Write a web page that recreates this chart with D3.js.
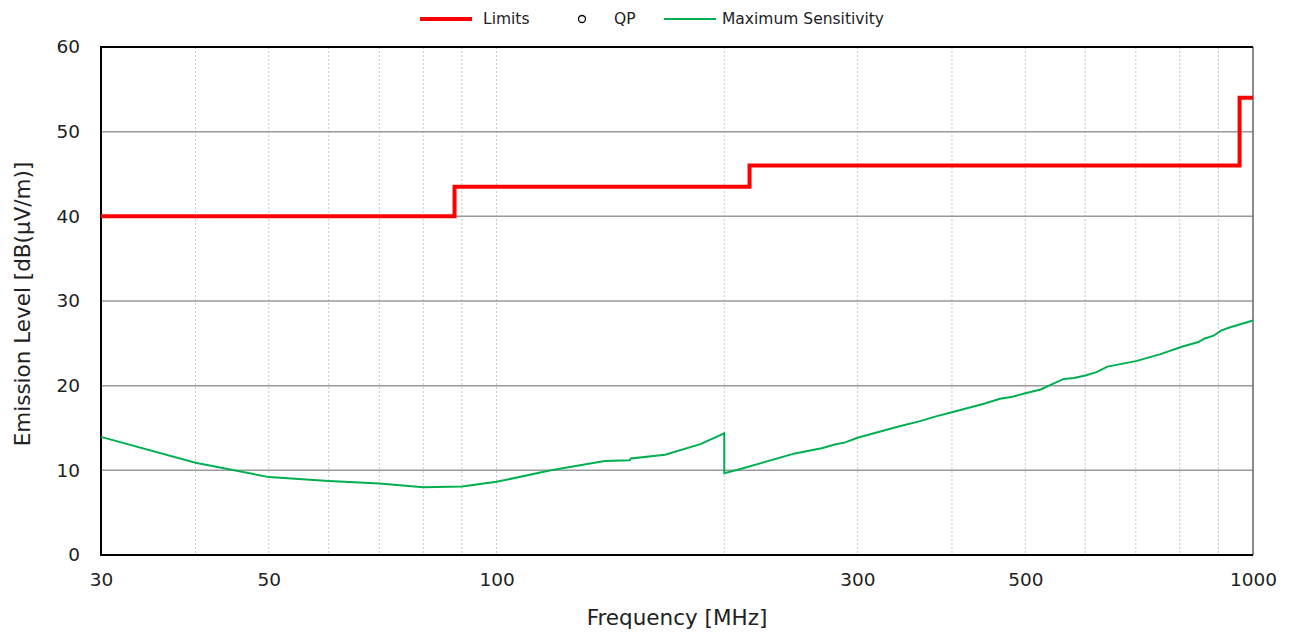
<!DOCTYPE html>
<html>
<head>
<meta charset="utf-8">
<script src="https://cdn.jsdelivr.net/npm/d3@7"></script>
<style>
  body { margin: 0; background: #fff; }
  svg text { font-family: "DejaVu Sans", Verdana, sans-serif; fill: #222; }
</style>
</head>
<body>
<div class="container"></div>
<script>
// chart values
var limitFreq = [30, 88, 216, 960, 1000];
var limitLevel = [40, 43.5, 46, 54, 54];

var sensFreq = [30, 40, 50, 60, 70, 80, 90, 100, 118, 139, 150, 150.5, 167, 186, 200,
  200, 209, 248, 269, 280, 289, 300, 341, 361, 382, 400, 442, 463, 481, 500, 524, 542,
  562, 580, 600, 621, 642, 700, 753, 805, 847, 862, 887, 907, 933, 1000];
var sensLevel = [13.95, 10.9, 9.2, 8.75, 8.45, 8.0, 8.1, 8.65, 10.0, 11.1, 11.2, 11.4, 11.85, 13.1, 14.37,
  9.65, 10.1, 12.0, 12.6, 13.05, 13.3, 13.85, 15.2, 15.75, 16.4, 16.85, 17.9, 18.45, 18.7, 19.1, 19.55, 20.15,
  20.8, 20.9, 21.2, 21.6, 22.25, 22.9, 23.7, 24.6, 25.15, 25.55, 25.9, 26.5, 26.9, 27.7];

var xTickVals = [30, 50, 100, 300, 500, 1000];
var xGridVals = [40, 50, 60, 70, 80, 90, 100, 200, 300, 400, 500, 600, 700, 800, 900];
var yTickVals = [0, 10, 20, 30, 40, 50, 60];

var legendItems = ["Limits", "QP", "Maximum Sensitivity"];

// layout
var width = 1294, height = 632;
var margin = {top: 47, right: 41, bottom: 77, left: 101};

var x = d3.scaleLog()
    .domain([30, 1000])
    .range([margin.left, width - margin.right]);
var y = d3.scaleLinear()
    .domain([0, 60])
    .range([height - margin.bottom, margin.top]);

var svg = d3.select(".container").append("svg")
    .attr("width", width)
    .attr("height", height);

// vertical dotted grid
svg.append("g").selectAll("line")
  .data(xGridVals).enter().append("line")
    .attr("x1", function(d){ return x(d); })
    .attr("x2", function(d){ return x(d); })
    .attr("y1", y(60)).attr("y2", y(0))
    .attr("stroke", "#c8c8c8")
    .attr("stroke-width", 1)
    .attr("stroke-dasharray", "2,2");

// horizontal grid
svg.append("g").selectAll("line")
  .data(yTickVals.filter(function(d){ return d > 0 && d < 60; })).enter().append("line")
    .attr("x1", x(30)).attr("x2", x(1000))
    .attr("y1", function(d){ return y(d); })
    .attr("y2", function(d){ return y(d); })
    .attr("stroke", "#9a9a9a")
    .attr("stroke-width", 1.5);

// frame
svg.append("line").attr("x1", x(1000)).attr("x2", x(1000)).attr("y1", y(60)).attr("y2", y(0))
    .attr("stroke", "#666").attr("stroke-width", 1.5);
svg.append("path")
    .attr("d", "M" + x(1000) + "," + y(60) + "H" + x(30) + "V" + y(0) + "H" + x(1000))
    .attr("fill", "none").attr("stroke", "#000").attr("stroke-width", 2);

// axes (labels only, using d3 axes)
var xAxis = d3.axisBottom(x).tickValues(xTickVals).tickFormat(d3.format("d")).tickSize(0).tickPadding(18);
var gx = svg.append("g").attr("transform", "translate(0," + y(0) + ")").call(xAxis);
gx.select(".domain").remove();
gx.selectAll("text").style("font-size", "18.5px").style("font-family", "DejaVu Sans, sans-serif").attr("fill", "#222");

var yAxis = d3.axisLeft(y).tickValues(yTickVals).tickSize(0).tickPadding(21);
var gy = svg.append("g").attr("transform", "translate(" + x(30) + ",0)").call(yAxis);
gy.select(".domain").remove();
gy.selectAll("text").style("font-size", "18.5px").style("font-family", "DejaVu Sans, sans-serif").attr("fill", "#222");

// axis titles
svg.append("text")
    .attr("x", (x(30) + x(1000)) / 2)
    .attr("y", 625)
    .attr("text-anchor", "middle")
    .style("font-size", "21.5px")
    .text("Frequency [MHz]");
svg.append("text")
    .attr("transform", "translate(30," + ((y(0) + y(60)) / 2 + 3) + ") rotate(-90)")
    .attr("text-anchor", "middle")
    .style("font-size", "21.5px")
    .text("Emission Level [dB(μV/m)]");

// series
var limitData = limitFreq.map(function(f, i){ return [f, limitLevel[i]]; });
var sensData = sensFreq.map(function(f, i){ return [f, sensLevel[i]]; });

var stepLine = d3.line()
    .x(function(d){ return x(d[0]); })
    .y(function(d){ return y(d[1]); })
    .curve(d3.curveStepAfter);
var plainLine = d3.line()
    .x(function(d){ return x(d[0]); })
    .y(function(d){ return y(d[1]); });

svg.append("path").datum(sensData)
    .attr("d", plainLine)
    .attr("fill", "none")
    .attr("stroke", "#00b050")
    .attr("stroke-width", 2);

svg.append("path").datum(limitData)
    .attr("d", stepLine)
    .attr("fill", "none")
    .attr("stroke", "#ff0000")
    .attr("stroke-width", 4);

// legend
var lg = svg.append("g").attr("class", "legend");
lg.append("line").attr("x1", 420).attr("x2", 472).attr("y1", 19).attr("y2", 19)
    .attr("stroke", "#ff0000").attr("stroke-width", 4);
lg.append("text").attr("x", 483).attr("y", 24).style("font-size", "15.5px").text(legendItems[0]);
lg.append("circle").attr("cx", 582).attr("cy", 19).attr("r", 3.5)
    .attr("fill", "#fff").attr("stroke", "#000").attr("stroke-width", 1.3);
lg.append("text").attr("x", 614).attr("y", 24).style("font-size", "15.5px").text(legendItems[1]);
lg.append("line").attr("x1", 664).attr("x2", 716).attr("y1", 19).attr("y2", 19)
    .attr("stroke", "#00b050").attr("stroke-width", 2);
lg.append("text").attr("x", 722).attr("y", 24).style("font-size", "15.5px").text(legendItems[2]);
</script>
</body>
</html>
